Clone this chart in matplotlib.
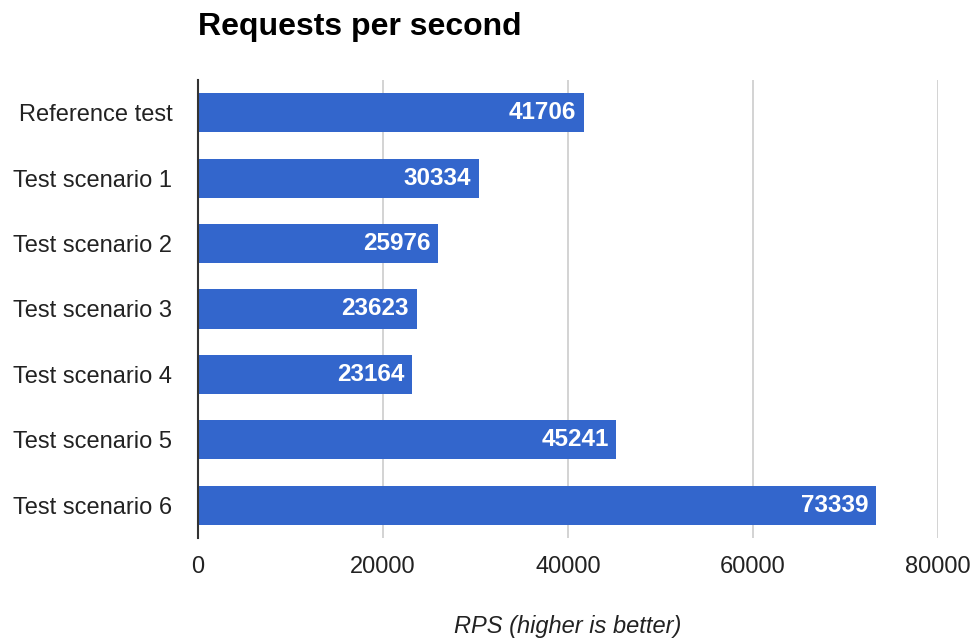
import matplotlib
matplotlib.use("Agg")
import matplotlib.pyplot as plt

categories = ["Reference test", "Test scenario 1", "Test scenario 2", "Test scenario 3",
              "Test scenario 4", "Test scenario 5", "Test scenario 6"]
values = [41706, 30334, 25976, 23623, 23164, 45241, 73339]
xticks = [0, 20000, 40000, 60000, 80000]

plt.rcParams['font.family'] = ['Liberation Sans', 'DejaVu Sans']

W, H = 973, 642
fig = plt.figure(figsize=(W / 100, H / 100), dpi=100)
left, right, top, bottom = 198, 938, 80, 538
ax = fig.add_axes([left / W, 1 - bottom / H, (right - left) / W, (bottom - top) / H])

ypos = list(range(len(categories)))
ax.barh(ypos, values, height=0.6, color="#3366CC", zorder=3)
ax.set_ylim(len(categories) - 0.5, -0.5)
ax.set_xlim(0, 80000)
ax.set_yticks(ypos)
ax.set_yticklabels(categories, fontsize=17, color="#222222")
ax.set_xticks(xticks)
ax.set_xticklabels([str(t) for t in xticks], fontsize=17, color="#222222")
ax.tick_params(axis="y", length=0, pad=18.5)
ax.tick_params(axis="x", length=0, pad=13)
ax.grid(axis="x", color="#CCCCCC", linewidth=1.2, zorder=0)
for s in ["top", "right", "bottom"]:
    ax.spines[s].set_visible(False)
ax.spines["left"].set_color("#333333")
ax.spines["left"].set_linewidth(1.5)
ax.spines["left"].set_zorder(4)

for y, v in zip(ypos, values):
    ax.text(v - 800, y, str(v), ha="right", va="center", color="white",
            fontsize=17.5, fontweight="bold", zorder=5)

fig.text(left / W, 1 - 27 / H, "Requests per second", fontsize=23, fontweight="bold",
         ha="left", va="center", color="#000000")
fig.text((left + right) / 2 / W, 1 - 627 / H, "RPS (higher is better)", fontsize=17,
         style="italic", ha="center", va="center", color="#222222")

fig.savefig("out.png", dpi=100, facecolor="white")
